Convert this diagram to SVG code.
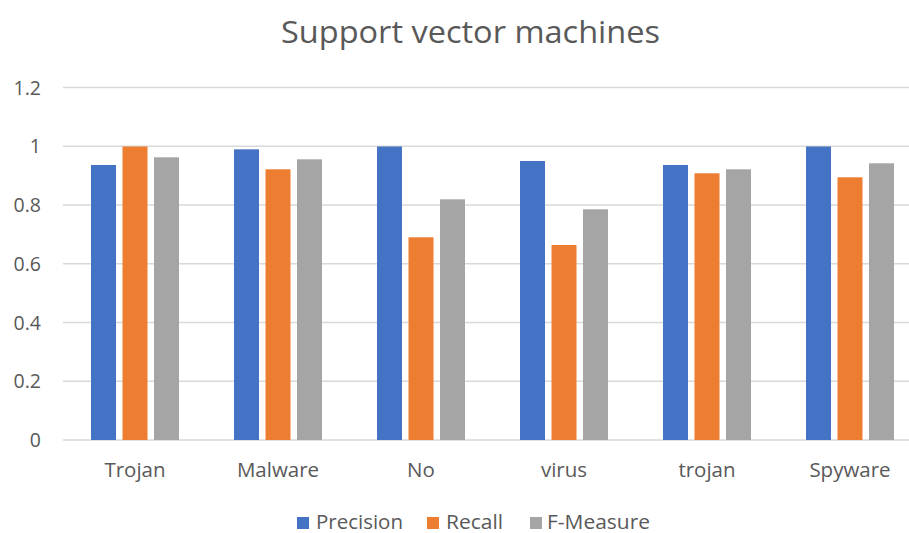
<svg xmlns="http://www.w3.org/2000/svg" width="909" height="533" viewBox="0 0 909 533">
<style>
.t{font-family:"Open Sans","Noto Sans","Liberation Sans",sans-serif;fill:#595959}
.tick{font-size:19.5px;text-anchor:end}
.cat{font-size:20.5px;text-anchor:middle}
.leg{font-size:19.5px}
.grid{stroke:#d9d9d9;stroke-width:1.5}
.p{fill:#4472c4}
.r{fill:#ed7d31}
.f{fill:#a5a5a5}
</style>
<rect width="909" height="533" fill="#ffffff"/>
<text class="t" x="281" y="43" font-size="31" textLength="379" lengthAdjust="spacingAndGlyphs">Support vector machines</text>
<g id="axis">
<line class="grid" x1="63" y1="87.5" x2="909" y2="87.5"/>
<line class="grid" x1="63" y1="146.25" x2="909" y2="146.25"/>
<line class="grid" x1="63" y1="205" x2="909" y2="205"/>
<line class="grid" x1="63" y1="263.75" x2="909" y2="263.75"/>
<line class="grid" x1="63" y1="322.5" x2="909" y2="322.5"/>
<line class="grid" x1="63" y1="381.25" x2="909" y2="381.25"/>
<line class="grid" x1="63" y1="440" x2="909" y2="440"/>
<text class="t tick" x="41" y="94.5">1.2</text>
<text class="t tick" x="41" y="153">1</text>
<text class="t tick" x="41" y="212">0.8</text>
<text class="t tick" x="41" y="270.5">0.6</text>
<text class="t tick" x="41" y="329.5">0.4</text>
<text class="t tick" x="41" y="388">0.2</text>
<text class="t tick" x="41" y="447">0</text>
</g>
<g id="trojan1">
<rect class="p" x="91" y="165" width="25" height="275"/>
<rect class="r" x="122.5" y="146.5" width="25" height="293.5"/>
<rect class="f" x="154" y="157.3" width="25" height="282.7"/>
<text class="t cat" x="135" y="477">Trojan</text>
</g>
<g id="malware">
<rect class="p" x="234" y="149.3" width="25" height="290.7"/>
<rect class="r" x="265.5" y="169.3" width="25" height="270.7"/>
<rect class="f" x="297" y="159.3" width="25" height="280.7"/>
<text class="t cat" x="278" y="477">Malware</text>
</g>
<g id="no">
<rect class="p" x="377" y="146.5" width="25" height="293.5"/>
<rect class="r" x="408.5" y="237.3" width="25" height="202.7"/>
<rect class="f" x="440" y="199.3" width="25" height="240.7"/>
<text class="t cat" x="421" y="477">No</text>
</g>
<g id="virus">
<rect class="p" x="520" y="161" width="25" height="279"/>
<rect class="r" x="551.5" y="245" width="25" height="195"/>
<rect class="f" x="583" y="209.3" width="25" height="230.7"/>
<text class="t cat" x="564" y="477">virus</text>
</g>
<g id="trojan2">
<rect class="p" x="663" y="165" width="25" height="275"/>
<rect class="r" x="694.5" y="173.3" width="25" height="266.7"/>
<rect class="f" x="726" y="169.3" width="25" height="270.7"/>
<text class="t cat" x="707" y="477">trojan</text>
</g>
<g id="spyware">
<rect class="p" x="806" y="146.5" width="25" height="293.5"/>
<rect class="r" x="837.5" y="177.3" width="25" height="262.7"/>
<rect class="f" x="869" y="163.3" width="25" height="276.7"/>
<text class="t cat" x="850" y="477">Spyware</text>
</g>
<g id="legend">
<rect class="p" x="297" y="517" width="12" height="12"/>
<text class="t leg" x="316" y="528.5" textLength="87" lengthAdjust="spacingAndGlyphs">Precision</text>
<rect class="r" x="427" y="517" width="12" height="12"/>
<text class="t leg" x="446" y="528.5" textLength="57" lengthAdjust="spacingAndGlyphs">Recall</text>
<rect class="f" x="530" y="517" width="12" height="12"/>
<text class="t leg" x="547" y="528.5" textLength="103" lengthAdjust="spacingAndGlyphs">F-Measure</text>
</g>
<g id="connectors"></g>
</svg>
